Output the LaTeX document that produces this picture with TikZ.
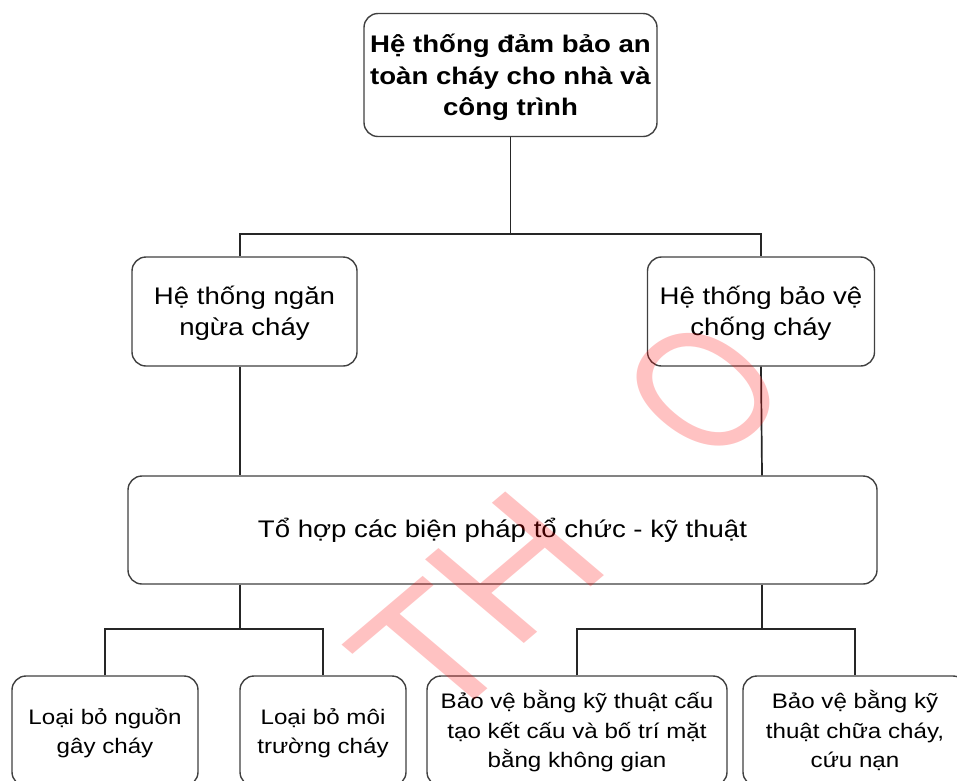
\documentclass[tikz,border=0pt]{standalone}
\usepackage{fontspec}
\usepackage{graphicx}
\usetikzlibrary{calc}
\setmainfont{Liberation Sans}[FakeStretch=1.15]
\newfontfamily\wmfont{Liberation Sans}
\newcommand{\lowtxt}[2]{\raisebox{-#1}[\height][\depth]{\begin{tabular}{@{}c@{}}#2\end{tabular}}}
\begin{document}
\begin{tikzpicture}[x=1pt,y=-1pt,
  box/.style={draw=black!75, line width=1.4pt, rounded corners=14pt, fill=white,
    align=center, inner sep=0pt, text=black},
  upper/.style={box, font=\fontsize{24}{31}\selectfont},
  lower/.style={box, font=\fontsize{21}{29.5}\selectfont},
  conn/.style={draw=black!85, line width=1.7pt},
  wm/.style={text=red, opacity=0.24, font=\wmfont\fontsize{172}{172}\selectfont,
    inner sep=0pt, rotate=45, transform shape}]
\useasboundingbox (0,0) rectangle (957,780);
\begin{scope}
\clip (0,0) rectangle (957,780);
% nodes
\node[upper, font=\bfseries\fontsize{24}{31.5}\selectfont, minimum width=293pt, minimum height=123pt]
  (top) at (510.5,75) {\lowtxt{3pt}{Hệ thống đảm bảo an\\toàn cháy cho nhà và\\công trình}};
\node[upper, minimum width=225pt, minimum height=109pt] (left) at (244.5,311.5)
  {\lowtxt{2pt}{Hệ thống ngăn\\ngừa cháy}};
\node[upper, minimum width=227pt, minimum height=109pt] (right) at (761,311.5)
  {\lowtxt{2pt}{Hệ thống bảo vệ\\chống cháy}};
\node[upper, minimum width=749pt, minimum height=108pt] (mid) at (502.5,530)
  {\lowtxt{1pt}{Tổ hợp các biện pháp tổ chức - kỹ thuật}};
\node[lower, minimum width=186pt, minimum height=110pt] (b1) at (105,731)
  {\lowtxt{2pt}{Loại bỏ nguồn\\gây cháy}};
\node[lower, minimum width=166pt, minimum height=110pt] (b2) at (323,731)
  {\lowtxt{2pt}{Loại bỏ môi\\trường cháy}};
\node[lower, minimum width=300pt, minimum height=110pt] (b3) at (577,731)
  {\lowtxt{1.5pt}{Bảo vệ bằng kỹ thuật cấu\\tạo kết cấu và bố trí mặt\\bằng không gian}};
\node[lower, minimum width=224pt, minimum height=110pt] (b4) at (855,731)
  {\lowtxt{1.5pt}{Bảo vệ bằng kỹ\\thuật chữa cháy,\\cứu nạn}};
% connectors
\coordinate (j1) at ($(top.south)+(0,97)$);
\draw[conn] (top.south) -- (j1);
\draw[conn] ([xshift=-4.5pt]left.north) |- (j1) -| (right.north);
\draw[conn] ([xshift=-4.5pt]left.south) -- ([xshift=-262.5pt]mid.north);
\draw[conn] (right.south) -- ([xshift=259.5pt]mid.north);
\coordinate (j2) at ($([xshift=-262.5pt]mid.south)+(0,44)$);
\coordinate (j3) at ($([xshift=259.5pt]mid.south)+(0,44)$);
\draw[conn] ([xshift=-262.5pt]mid.south) -- (j2);
\draw[conn] ([xshift=259.5pt]mid.south) -- (j3);
\draw[conn] (b1.north) |- (j2) -| (b2.north);
\draw[conn] (b3.north) |- (j3) -| (b4.north);
% watermark
\begin{scope}[xscale=1.18]
\node[wm] (wT) at (366,652) {T};
\node[wm] (wH) at (436.4,568) {H};
\node[wm] (wO) at (596.6,390) {\scalebox{0.8}[1]{O}};
\end{scope}
\end{scope}
\end{tikzpicture}
\end{document}
